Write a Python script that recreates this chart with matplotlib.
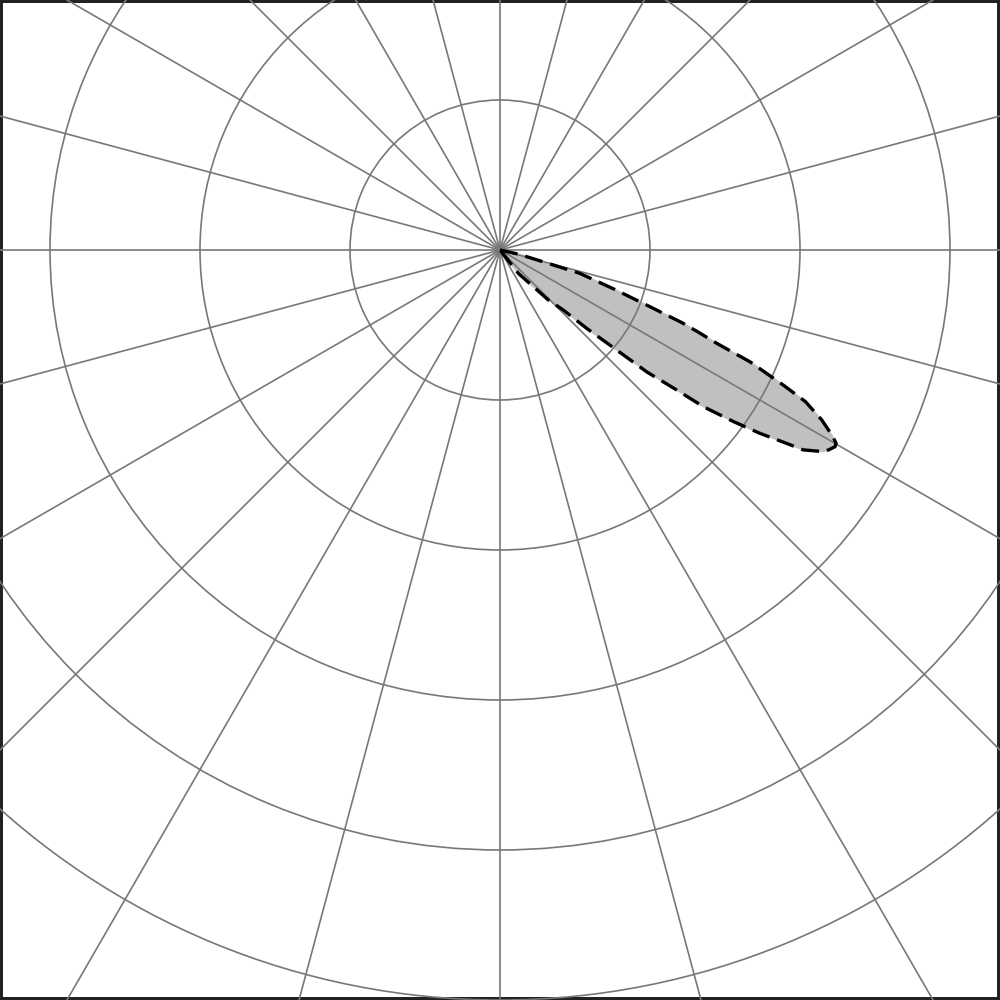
import numpy as np
import matplotlib
matplotlib.use("Agg")
import matplotlib.pyplot as plt

# lobe outline: angle (deg, ccw from east) and radius in pixels of the
# reference (one grid ring = 150 px)
lobe_theta_deg = [0.0, -12.7, -16.3, -18.9, -20.7, -21.8, -22.6, -23.3, -24.1, -25.5,
                  -26.4, -27.85, -29.15, -29.9, -30.42, -31.3, -31.96, -33.4, -34.0,
                  -35.2, -36.3, -37.6, -38.4, -39.7, -40.6, -42.1, -43.5, -46.0, -51.8, 0.0]
lobe_r_px = [0, 20, 83, 120, 160, 197, 217, 236, 274, 314,
             341, 364, 380, 387.7, 388.5, 384.7, 381, 363, 346,
             318, 290, 257, 225, 191, 154, 117, 87, 69, 30, 0]

ring_ticks = [1, 2, 3, 4, 5]
spoke_ticks = list(range(0, 360, 15))
PX_PER_RING = 150

fig = plt.figure(figsize=(10, 10), dpi=100)
fig.patch.set_facecolor("white")
fig.patch.set_edgecolor("#222222")
fig.patch.set_linewidth(3)

# polar axes centred at (0.5, 0.75) of the figure, radius larger than the figure
R = 0.95
ax = fig.add_axes([0.5 - R, 0.75 - R, 2 * R, 2 * R], projection="polar")
ax.set_facecolor("none")
ax.set_rlim(0, R * 1000 / PX_PER_RING)
ax.set_rticks(ring_ticks)
ax.set_thetagrids(spoke_ticks, labels=[""] * len(spoke_ticks))
ax.set_yticklabels([])
ax.grid(True, color="#787878", linewidth=1.2)
ax.spines["polar"].set_visible(False)
ax.tick_params(length=0)

th = np.deg2rad(lobe_theta_deg)
r = np.array(lobe_r_px) / PX_PER_RING
ax.fill(th, r, color="#c0c0c0", zorder=1)
ax.plot(th, r, color="black", linewidth=2.4, linestyle=(0, (5.4, 2.4)), zorder=3)

fig.savefig("out.png", dpi=100, facecolor=fig.get_facecolor(), edgecolor=fig.get_edgecolor())
